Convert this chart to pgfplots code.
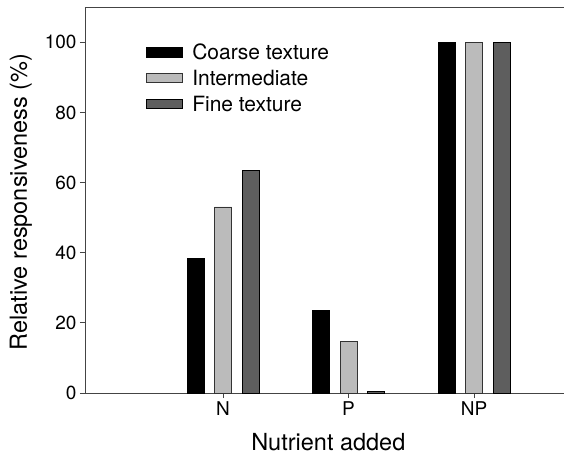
\documentclass[border=0pt]{standalone}
\usepackage{fontspec}
\setmainfont{TeX Gyre Heros}
\usepackage{pgfplots}
\pgfplotsset{compat=1.18}
\definecolor{lightbar}{HTML}{BBBBBB}
\definecolor{darkbar}{HTML}{5E5E5E}
\definecolor{axgray}{HTML}{444444}
\begin{document}
\begin{tikzpicture}
\begin{axis}[
  at={(0,0)}, anchor=south west,
  scale only axis, width=479pt, height=385.7pt,
  xmin=-0.10, xmax=3.717, ymin=0, ymax=110,
  axis x line*=bottom, axis y line*=left,
  axis line style={axgray, line width=0.8pt},
  ytick={0,20,...,100}, xtick={1,2,3}, xticklabels={N,P,NP},
  tick align=outside, major tick length=5pt,
  tick style={axgray, line width=0.8pt},
  /pgf/number format/assume math mode=true,
  ticklabel style={font=\fontsize{19}{22}\selectfont},
  xlabel={Nutrient added},
  ylabel={Relative responsiveness (\%)},
  xlabel style={font=\fontsize{23.5}{28}\selectfont, at={(axis description cs:0.508,0)}, anchor=base, yshift=-57pt},
  ylabel style={font=\fontsize{23.5}{28}\selectfont, at={(axis description cs:-0.1211,0.495)}, anchor=base},
  legend style={draw=none, fill=none, at={(axis description cs:0.1273,1)}, anchor=north west, yshift=-36.9pt,
    font=\fontsize{21}{25}\selectfont, inner sep=0pt, outer sep=0pt, row sep=9.8pt,
    nodes={inner sep=0pt, text height=15.5pt, text depth=0.5pt}},
  legend cell align=left,
  legend image code/.code={\draw[#1, line width=0.6pt] (0pt,-4.75pt) rectangle (36pt,4.75pt);
    \path[draw=none, fill=none] (0pt,0pt) -- (46pt,0pt);},
]
\addplot[ybar, bar width=17pt, bar shift=-27.5pt, fill=black, draw=black, line width=0.6pt]
  coordinates {(1,38.3) (2,23.6) (3,100)};
\addplot[ybar, bar width=17pt, bar shift=0pt, fill=lightbar, draw=black!80, line width=0.6pt]
  coordinates {(1,53.1) (2,14.8) (3,100)};
\addplot[ybar, bar width=17pt, bar shift=27.5pt, fill=darkbar, draw=black, line width=0.6pt]
  coordinates {(1,63.5) (2,0.5) (3,100)};
\legend{Coarse texture, Intermediate, Fine texture}
\draw[axgray, line width=0.8pt] (rel axis cs:0,1) -- (rel axis cs:1,1);
\end{axis}
\pgfresetboundingbox
\path (-85pt,-62.3pt) rectangle (479pt,393pt);
\end{tikzpicture}
\end{document}
